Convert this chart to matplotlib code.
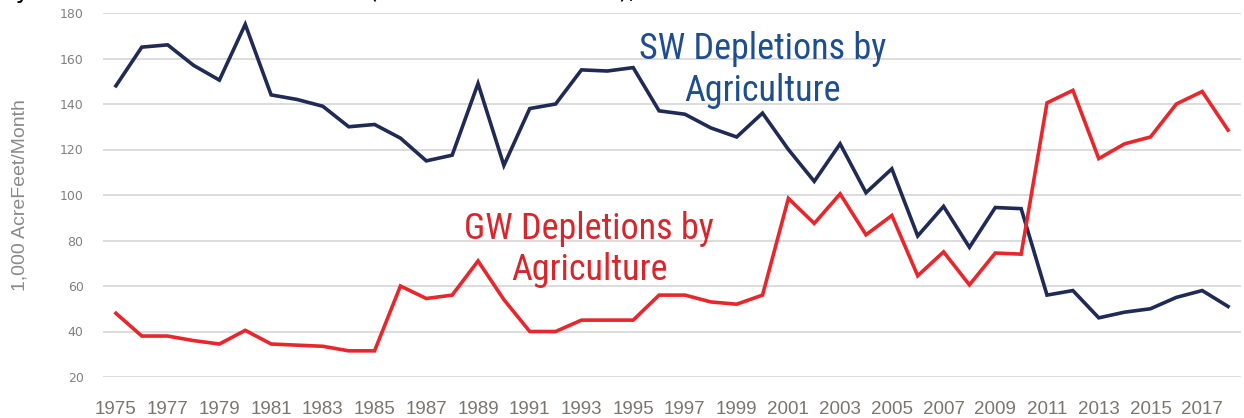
import matplotlib
matplotlib.use("Agg")
import matplotlib.pyplot as plt
from matplotlib import font_manager

years = list(range(1975, 2019))

# SW depletions by agriculture (1,000 acre-feet / month)
sw_depletions = [148, 165, 166, 157, 150.5, 175, 144, 142, 139, 130,
                 131, 125, 115, 117.5, 149, 113, 138, 140, 155, 154.5,
                 156, 137, 135.5, 129.5, 125.5, 136, 120, 106, 122.5, 101,
                 111.5, 82, 95, 77, 94.5, 94, 56, 58, 46, 48.5,
                 50, 55, 58, 51]

# GW depletions by agriculture (1,000 acre-feet / month)
gw_depletions = [48, 38, 38, 36, 34.5, 40.5, 34.5, 34, 33.5, 31.5,
                 31.5, 60, 54.5, 56, 71, 54, 40, 40, 45, 45,
                 45, 56, 56, 53, 52, 56, 98.5, 87.5, 100.5, 82.5,
                 91, 64.5, 75, 60.5, 74.5, 74, 140.5, 146, 116, 122.5,
                 125.5, 140, 145.5, 128.5]

y_ticks = [20, 40, 60, 80, 100, 120, 140, 160, 180]
x_tick_years = years[::2]

# pick a narrow font for the call-out labels if one is installed
installed = {f.name for f in font_manager.fontManager.ttflist}
narrow = "DejaVu Sans"
for name in ["Liberation Sans Narrow", "Roboto Condensed", "DejaVu Sans Condensed"]:
    if name in installed:
        narrow = name
        break

navy = "#1f2a55"
red = "#e8262b"
gray = "#808080"

fig = plt.figure(figsize=(12.44, 4.18), dpi=100)
ax = fig.add_axes([103 / 1244, 1 - 377 / 418, 1138 / 1244, 364 / 418])

ax.plot(years, sw_depletions, color=navy, linewidth=2.6, solid_joinstyle="miter")
ax.plot(years, gw_depletions, color=red, linewidth=2.6, solid_joinstyle="miter")

ax.set_xlim(1974.5, 2018.5)
ax.set_ylim(20, 180)
ax.set_yticks(y_ticks)
ax.set_xticks(x_tick_years)
ax.grid(axis="y", color="#d9d9d9", linewidth=1.3)
ax.set_axisbelow(True)
for s in ax.spines.values():
    s.set_visible(False)
ax.tick_params(length=0)
ax.tick_params(axis="y", labelsize=9, labelcolor=gray, pad=14)
ax.tick_params(axis="x", labelsize=13.5, labelcolor=gray, pad=17)
for lbl in ax.get_xticklabels():
    lbl.set_family("Liberation Sans")
    lbl.set_color("#7a7570")

ax.set_ylabel("1,000 AcreFeet/Month", fontsize=14, color="#8a8a8a",
              family="Liberation Sans")
ax.yaxis.set_label_coords(-74 / 1138, 0.5)

# call-out labels
ax.text(2000.0, 155, "SW Depletions by\nAgriculture", color="#1f4e8f",
        fontsize=26, family=narrow, ha="center", va="center", linespacing=1.2)
ax.text(1993.3, 76, "GW Depletions by\nAgriculture", color="#d9262c",
        fontsize=26, family=narrow, ha="center", va="center", linespacing=1.2)

# title above the figure, only its descenders show
fig.text(-0.054, 1 + 1.5 / 418, "Monthly Surface and Ground Water (1975 to 2018 Totals),",
         fontsize=17.5, color="black", va="baseline", ha="left")

fig.savefig("out.png", dpi=100)
